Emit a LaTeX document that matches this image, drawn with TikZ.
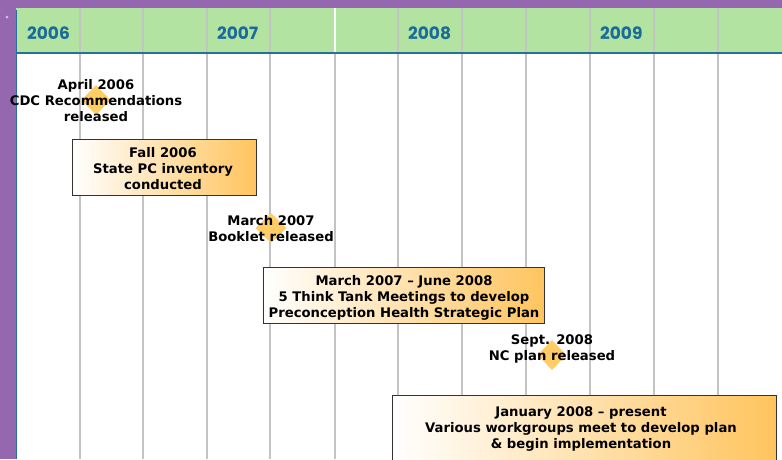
\documentclass[tikz,border=0pt]{standalone}
\usepackage{fontspec}
\setmainfont{DejaVu Sans}
\newfontfamily\yearfont{Poppins}
\usetikzlibrary{shapes.geometric}
\definecolor{purp}{HTML}{9467AE}
\definecolor{hdrgreen}{HTML}{B2E3A0}
\definecolor{hdrblue}{HTML}{2A6E9E}
\definecolor{yearblue}{HTML}{1A6A9A}
\definecolor{gridgray}{HTML}{C4C4C4}
\definecolor{boxorange}{HTML}{FFC45E}
\definecolor{diamondc}{HTML}{FFCC66}
\tikzset{
  year/.style={font=\yearfont\bfseries\fontsize{17}{20}\selectfont, text=yearblue, anchor=west, inner sep=0},
  evtext/.style={font=\bfseries\fontsize{13.2}{16}\selectfont, align=center, inner sep=0},
  evbox/.style={draw=black!80, line width=0.8pt, left color=white, right color=boxorange, inner sep=0},
  mile/.style={diamond, fill=diamondc, minimum width=29pt, minimum height=30pt, inner sep=0},
  grid/.style={gridgray, line width=1.2pt}
}
\begin{document}
\begin{tikzpicture}[x=1pt,y=-1pt]
\useasboundingbox (0,0) rectangle (782,459);
\clip (0,0) rectangle (782,459);
% background
\fill[white] (0,0) rectangle (782,459);
\fill[purp] (0,0) rectangle (782,8);
\fill[purp] (0,0) rectangle (16,459);
\fill[purp!40!white] (7,17) circle (1.5);
% header
\fill[hdrgreen] (16,8) rectangle (782,52);
\draw[hdrblue, line width=0.8pt] (16.5,10) -- (16.5,459);
% grid lines
\foreach \x in {80,143,207,270,398,462,526,590,654,718}
  \draw[grid] (\x,8) -- (\x,459);
\draw[white, line width=1.2pt] (335,8) -- (335,52);
\draw[grid] (335,52) -- (335,459);
\draw[hdrblue, line width=2pt] (16,53) -- (782,53);
% years
\node[year] (y2006) at (27,33.5) {2006};
\node[year] (y2007) at (217,33.5) {2007};
\node[year] (y2008) at (408,33.5) {2008};
\node[year] (y2009) at (600,33.5) {2009};
% milestone 1
\node[mile] (d1) at (96,100) {};
\node[evtext] (t1) at (96,101) {April 2006\\CDC Recommendations\\released};
% box 1
\node[evbox, minimum width=184pt, minimum height=56pt] (b1) at (164,167) {};
\node[evtext] (b1t) at (163,169) {Fall 2006\\State PC inventory\\conducted};
% milestone 2
\node[mile, minimum width=31pt] (d2) at (271,228) {};
\node[evtext] (t2) at (271,229) {March 2007\\Booklet released};
% box 2
\node[evbox, minimum width=281pt, minimum height=56pt] (b2) at (403.5,295) {};
\node[evtext] (b2t) at (404,298) {March 2007 -- June 2008\\5 Think Tank Meetings to develop\\Preconception Health Strategic Plan};
% milestone 3
\node[mile] (d3) at (552,355) {};
\node[evtext] (t3) at (552,349) {Sept. 2008\\NC plan released};
% box 3
\node[evbox, minimum width=384pt, minimum height=70pt] (b3) at (584,430) {};
\node[evtext] (b3t) at (581,429) {January 2008 -- present\\Various workgroups meet to develop plan\\\& begin implementation};
\end{tikzpicture}
\end{document}
